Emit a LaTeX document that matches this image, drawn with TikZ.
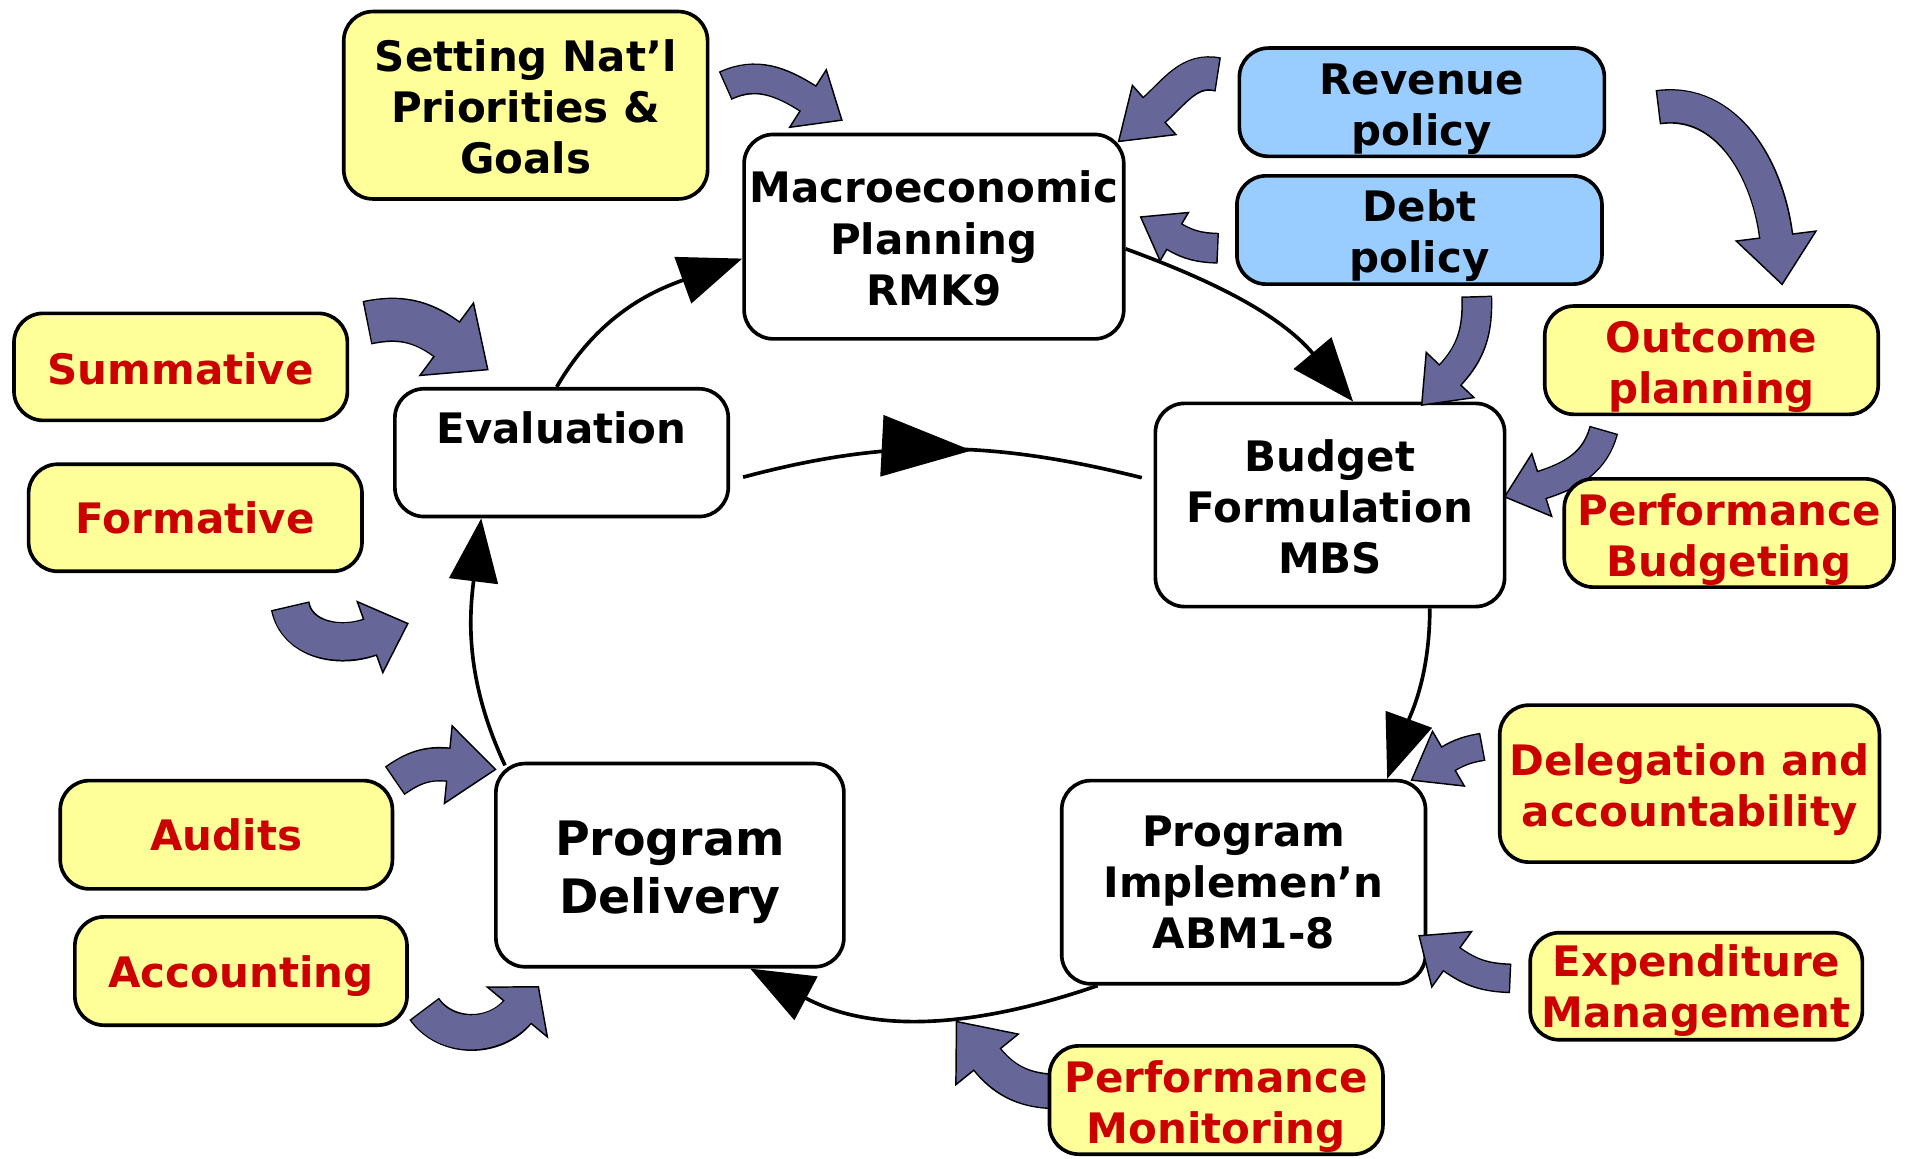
\documentclass[tikz,border=0pt]{standalone}
\usepackage{fontspec}
\setmainfont{DejaVu Sans}
\usetikzlibrary{arrows.meta,calc,decorations.markings}
\definecolor{yel}{RGB}{255,255,153}
\definecolor{blu}{RGB}{153,204,255}
\definecolor{redt}{RGB}{204,0,0}
\definecolor{arrcol}{RGB}{102,102,153}
% #1 tail, #2 out angle, #3 head base, #4 in angle, #5 body width, #6 half head width, #7 head length
\newcommand\barrow[7]{%
  \pgfmathsetmacro\bwo{#5+2.4}%
  \draw[black, line width=\bwo pt, shorten <=-1.2pt] (#1) to[out=#2, in=#4] (#3);
  \filldraw[fill=arrcol, draw=black, line width=1.2pt, line join=miter]
    ($(#3)+(#4-90:#6pt)$) -- ($(#3)+(#4+180:#7pt)$) -- ($(#3)+(#4+90:#6pt)$) -- cycle;
  \draw[arrcol, line width=#5pt, shorten >=-2pt] (#1) to[out=#2, in=#4] (#3);
}
\newcommand\dn[1]{\rule{0pt}{#1}}
\tikzset{
  box/.style={draw=black, line width=3pt, rounded corners=24pt, align=center, inner sep=0pt,
    font=\bfseries\fontsize{34.5}{42}\selectfont},
  wbox/.style={box, fill=white},
  ybox/.style={box, fill=yel, text=redt},
  bbox/.style={box, fill=blu},
  conn/.style={draw=black, line width=3pt, -{Triangle[length=52pt,width=40pt]}},
}
\begin{document}
\begin{tikzpicture}[x=1pt,y=1pt]
\fill[white] (0,0) rectangle (1568,-952);
\useasboundingbox (0,0) rectangle (1568,-952);

% block arrows partly behind boxes
\barrow{1317.7,-354.4}{-105}{1267,-398.6}{17.6}{22}{27}{32}
\barrow{870,-897}{180}{811.2,-870.6}{-51}{27}{33}{40}

% nodes
\node[ybox, text=black, minimum width=299pt, minimum height=154pt] (setting) at (432,-86.5) {\dn{29pt}Setting Nat’l\\Priorities \&\\Goals};
\node[wbox, minimum width=312pt, minimum height=168pt] (macro) at (767.5,-194.5) {\dn{29pt}Macroeconomic\\Planning\\RMK9};
\node[bbox, minimum width=300pt, minimum height=89pt] (revenue) at (1168.5,-84) {\dn{36pt}Revenue\\policy};
\node[bbox, minimum width=300pt, minimum height=89pt] (debt) at (1166.5,-189) {\dn{36pt}Debt\\policy};
\node[ybox, minimum width=274pt, minimum height=89pt] (outcome) at (1406.5,-296) {\dn{37pt}Outcome\\planning};
\node[ybox, minimum width=271pt, minimum height=89pt] (perfbud) at (1421,-438) {\dn{37pt}Performance\\Budgeting};
\node[wbox, minimum width=287pt, minimum height=167pt] (budget) at (1093,-415) {\dn{29pt}Budget\\Formulation\\MBS};
\node[ybox, minimum width=312pt, minimum height=129pt] (deleg) at (1388.5,-644) {\dn{36pt}Delegation and\\accountability};
\node[wbox, minimum width=299pt, minimum height=167pt] (pi) at (1022,-725) {Program\\Implemen’n\\ABM1-8};
\node[ybox, minimum width=273pt, minimum height=88pt] (expend) at (1394,-810.5) {\dn{34pt}Expenditure\\Management};
\node[ybox, minimum width=274pt, minimum height=89pt] (perfmon) at (999.5,-904) {\dn{37pt}Performance\\Monitoring};
\node[wbox, minimum width=286pt, minimum height=167pt, font=\bfseries\fontsize{39}{48}\selectfont] (pd) at (550.5,-711) {\dn{40pt}Program\\Delivery};
\node[ybox, minimum width=273pt, minimum height=89pt] (accounting) at (198,-798) {\dn{34pt}Accounting};
\node[ybox, minimum width=273pt, minimum height=89pt] (audits) at (186,-686) {Audits};
\node[ybox, minimum width=274pt, minimum height=88pt] (formative) at (160.5,-425.5) {Formative};
\node[ybox, minimum width=274pt, minimum height=88pt] (summative) at (148.5,-301.5) {\dn{29pt}Summative};
\node[wbox, minimum width=274pt, minimum height=105pt] (eval) at (461.5,-372) {Evaluation\\~};

% cycle connectors
\draw[conn] ([xshift=-4pt]eval.north) to[out=60, in=200] ([yshift=-18pt]macro.west);
\draw[conn] ([yshift=-10pt]macro.east) to[out=-20, in=130] ([xshift=19pt]budget.north);
\draw[conn] ([xshift=82pt]budget.south) to[out=-90, in=70] ([xshift=118pt]pi.north);
\draw[conn] ([xshift=-120pt]pi.south) to[out=199, in=-28] ([xshift=66pt]pd.south);
\draw[conn] ([xshift=9pt,yshift=-3pt]pd.north west) to[out=115, in=-97] ([xshift=-66pt]eval.south);
\draw[draw=black, line width=3pt, shorten <=11pt, shorten >=10pt,
  decoration={markings, mark=at position 0.57 with {\arrow{Triangle[length=74pt,width=50pt]}}},
  postaction={decorate}]
  ([yshift=-23pt]eval.east) to[out=15, in=166] ([yshift=20pt]budget.west);

% block arrows on top
\barrow{597,-70}{25}{664,-81}{147.5}{23}{28}{33}
\barrow{1000,-61}{168}{948.5,-90.4}{41.5}{26}{27}{39}
\barrow{1000,-204}{178}{965,-194.5}{-30.4}{23}{23}{32}
\barrow{1363.5,-88}{8}{1459.6,-194}{97.1}{26}{33}{40}
\barrow{1213.6,-244.5}{-88}{1191.7,-308.2}{46.6}{23}{27}{34}
\barrow{302.7,-265}{12}{367.1,-278.8}{143.5}{34}{37}{42}
\barrow{238.7,-499}{-79}{304.1,-523.6}{-160.2}{30}{31}{33}
\barrow{325.3,-641}{35}{368.4,-628.4}{174.3}{26}{32}{39}
\barrow{349.3,-830}{-55}{425.2,-831.7}{-129.7}{28}{32}{27}
\barrow{1217.4,-613.9}{190}{1190.3,-623.5}{30.2}{21}{26}{35}
\barrow{1240.3,-804}{178}{1193,-788.3}{-35.7}{22}{28}{33}
\end{tikzpicture}
\end{document}
